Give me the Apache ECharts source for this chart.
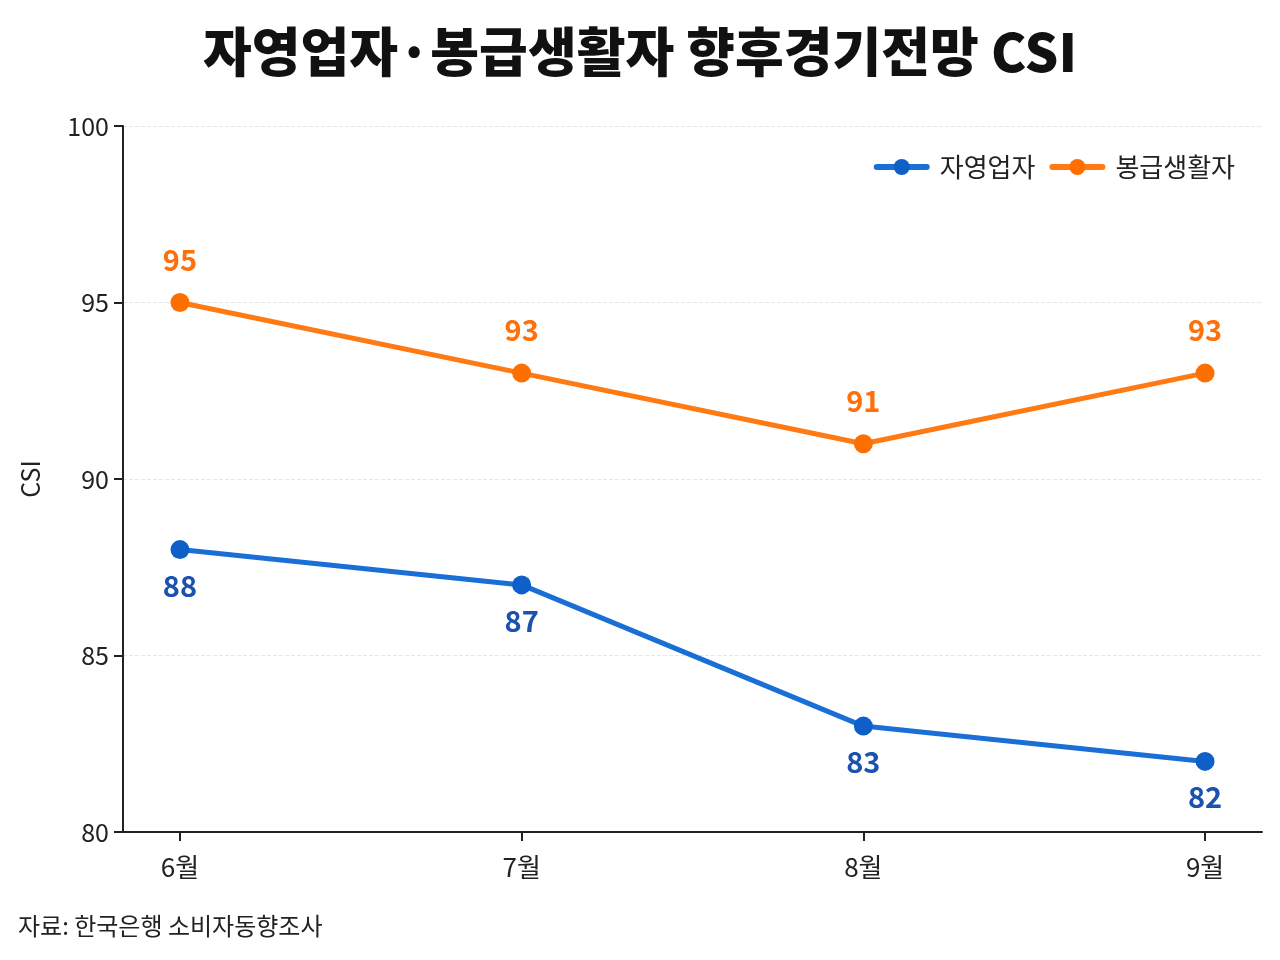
<!DOCTYPE html>
<html><head><meta charset="utf-8">
<script src="https://cdn.jsdelivr.net/npm/echarts@6/dist/echarts.min.js"></script>
<style>html,body{margin:0;padding:0;background:#fff}#c{width:1280px;height:960px}</style>
</head><body><div id="c"></div>
<script>
const categories = ['6월', '7월', '8월', '9월'];
const selfEmployed = [88, 87, 83, 82];
const salaried = [95, 93, 91, 93];
const seriesNames = ['자영업자', '봉급생활자'];
const yTicks = { min: 80, max: 100, interval: 5 };

const F = '"Noto Sans CJK KR", "Noto Sans", sans-serif';
const blue = '#1a6fd6', blueDot = '#0f5fc9', blueLbl = '#1a52ad';
const orange = '#ff7a12', orangeDot = '#ff6f00', orangeLbl = '#ff6f0a';

const chart = echarts.init(document.getElementById('c'));
chart.setOption({
  backgroundColor: '#ffffff',
  title: {
    text: '자영업자·봉급생활자 향후경기전망 CSI',
    left: 'center', top: 20,
    textStyle: { fontFamily: F, fontSize: 53, fontWeight: 900, color: '#111' }
  },
  graphic: [{
    type: 'text', left: 18, top: 914,
    style: { text: '자료: 한국은행 소비자동향조사', font: '24px ' + F, fill: '#222' }
  }],
  legend: {
    right: 40, top: 149, itemGap: 14, itemWidth: 50, itemHeight: 20,
    textStyle: { fontFamily: F, fontSize: 26, color: '#222', padding: [0, 0, 0, 8] },
    lineStyle: { width: 6, cap: 'round' },
    data: seriesNames
  },
  grid: { left: 123, right: 18, top: 126, bottom: 128 },
  xAxis: {
    type: 'value', min: -1/6, max: 3 + 1/6,
    axisLine: { show: true, onZero: false, lineStyle: { color: '#222', width: 2 } },
    axisTick: { show: true, customValues: [0, 1, 2, 3], length: 9, lineStyle: { color: '#222', width: 2 } },
    axisLabel: { customValues: [0, 1, 2, 3], formatter: v => categories[Math.round(v)], fontFamily: F, fontSize: 26, color: '#222', margin: 22 },
    splitLine: { show: false }
  },
  yAxis: {
    type: 'value', min: yTicks.min, max: yTicks.max, interval: yTicks.interval,
    name: 'CSI', nameLocation: 'middle', nameGap: 80, nameRotate: 90,
    nameTextStyle: { fontFamily: F, fontSize: 25, color: '#222' },
    axisLine: { show: true, onZero: false, lineStyle: { color: '#222', width: 2 } },
    axisTick: { show: true, length: 9, lineStyle: { color: '#222', width: 2 } },
    axisLabel: { fontFamily: F, fontSize: 25, color: '#222', margin: 14 },
    splitLine: { show: true, lineStyle: { color: '#e6e6e6', type: 'dashed', width: 1 } }
  },
  series: [
    {
      name: seriesNames[0], type: 'line',
      data: selfEmployed.map((v, i) => [i, v]),
      symbol: 'circle', symbolSize: 19,
      lineStyle: { color: blue, width: 5 },
      itemStyle: { color: blueDot },
      label: { show: true, position: 'bottom', distance: 12, formatter: p => p.value[1], fontFamily: F, fontSize: 29, fontWeight: 'bold', color: blueLbl }
    },
    {
      name: seriesNames[1], type: 'line',
      data: salaried.map((v, i) => [i, v]),
      symbol: 'circle', symbolSize: 19,
      lineStyle: { color: orange, width: 5 },
      itemStyle: { color: orangeDot },
      label: { show: true, position: 'top', distance: 19, formatter: p => p.value[1], fontFamily: F, fontSize: 29, fontWeight: 'bold', color: orangeLbl }
    }
  ]
});
</script></body></html>
